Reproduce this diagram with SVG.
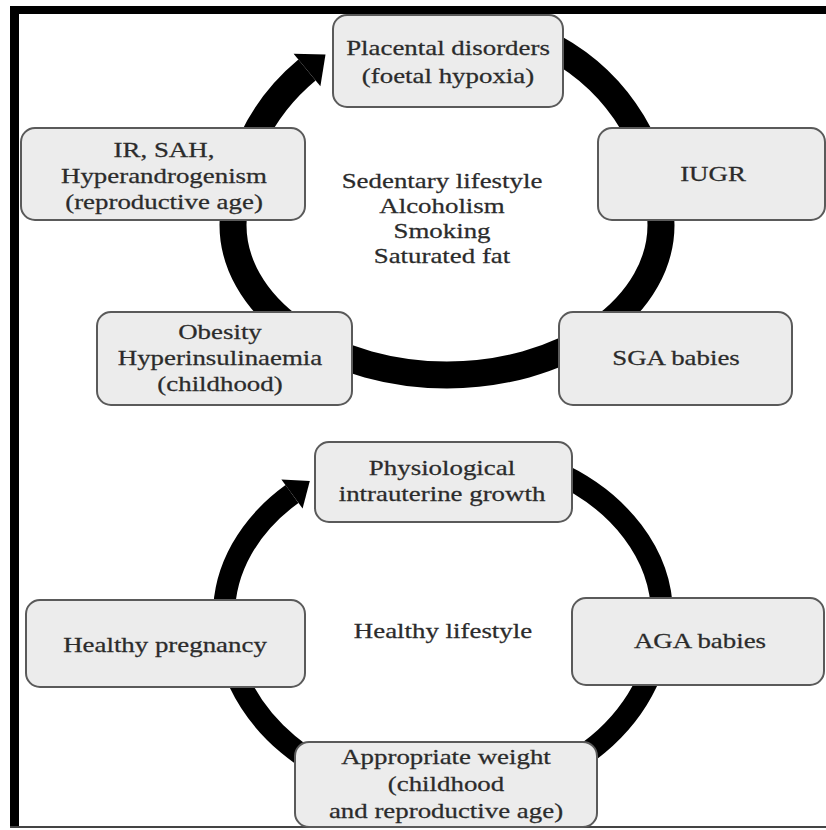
<svg xmlns="http://www.w3.org/2000/svg" width="826" height="830" viewBox="0 0 826 830">
<defs>
<style>
.box{fill:#ececec;stroke:#5a5a5a;stroke-width:2}
.t{font-family:"Liberation Serif","Times New Roman",serif;font-size:21.5px;fill:#2b2b2b;stroke:#2b2b2b;stroke-width:0.25;text-anchor:middle}
.ring{fill:none;stroke:#000;stroke-linecap:butt}
</style>
</defs>
<rect x="0" y="0" width="826" height="830" fill="#fff"/>
<g id="frame">
<rect x="10" y="6" width="816" height="8" fill="#000"/>
<rect x="10" y="6" width="9" height="822" fill="#000"/>
<rect x="10" y="826" width="816" height="2" fill="#444"/>
</g>
<g id="connectors">
<path class="ring" stroke-width="27" d="M554 47.5 A214 205 0 0 1 661 225 A214 150 0 0 1 233 225 A214 205 0 0 1 307 70"/>
<polygon points="293.6,53.8 320.4,86.2 325.5,54.6" fill="#000"/>
<path class="ring" stroke-width="22" d="M552.5 470.4 A219 167 0 0 1 662 615 A219 183 0 0 1 224 615 A219 167 0 0 1 292 494"/>
<polygon points="281.4,479.4 302.6,508.6 309.8,481.1" fill="#000"/>
</g>
<g id="placental"><rect class="box" x="333" y="15" width="230" height="92" rx="14"/>
<text class="t" transform="translate(448 0) scale(1.25 1)" x="0" y="55">Placental disorders</text><text class="t" transform="translate(448 0) scale(1.25 1)" x="0" y="83">(foetal hypoxia)</text></g>
<g id="iugr"><rect class="box" x="598" y="128" width="227" height="92" rx="14"/>
<text class="t" transform="translate(713 0) scale(1.25 1)" x="0" y="181">IUGR</text></g>
<g id="irsah"><rect class="box" x="21" y="128" width="284" height="92" rx="14"/>
<text class="t" transform="translate(164 0) scale(1.25 1)" x="0" y="157">IR, SAH,</text><text class="t" transform="translate(164 0) scale(1.25 1)" x="0" y="183">Hyperandrogenism</text><text class="t" transform="translate(164 0) scale(1.25 1)" x="0" y="209">(reproductive age)</text></g>
<g id="risk">
<text class="t" transform="translate(442 0) scale(1.25 1)" x="0" y="188">Sedentary lifestyle</text><text class="t" transform="translate(442 0) scale(1.25 1)" x="0" y="213">Alcoholism</text><text class="t" transform="translate(442 0) scale(1.25 1)" x="0" y="238">Smoking</text><text class="t" transform="translate(442 0) scale(1.25 1)" x="0" y="263">Saturated fat</text></g>
<g id="obesity"><rect class="box" x="97" y="312" width="255" height="93" rx="14"/>
<text class="t" transform="translate(220 0) scale(1.25 1)" x="0" y="339">Obesity</text><text class="t" transform="translate(220 0) scale(1.25 1)" x="0" y="365">Hyperinsulinaemia</text><text class="t" transform="translate(220 0) scale(1.25 1)" x="0" y="391">(childhood)</text></g>
<g id="sga"><rect class="box" x="559" y="312" width="233" height="93" rx="14"/>
<text class="t" transform="translate(676 0) scale(1.25 1)" x="0" y="365">SGA babies</text></g>
<g id="physio"><rect class="box" x="315" y="442" width="257" height="80" rx="14"/>
<text class="t" transform="translate(442 0) scale(1.25 1)" x="0" y="475">Physiological</text><text class="t" transform="translate(442 0) scale(1.25 1)" x="0" y="501">intrauterine growth</text></g>
<g id="healthy-lifestyle"><text class="t" transform="translate(443 0) scale(1.25 1)" x="0" y="638">Healthy lifestyle</text></g>
<g id="pregnancy"><rect class="box" x="26" y="600" width="279" height="87" rx="14"/>
<text class="t" transform="translate(165 0) scale(1.25 1)" x="0" y="652">Healthy pregnancy</text></g>
<g id="aga"><rect class="box" x="572" y="598" width="252" height="87" rx="14"/>
<text class="t" transform="translate(700 0) scale(1.25 1)" x="0" y="648">AGA babies</text></g>
<g id="weight"><rect class="box" x="295" y="742" width="302" height="85" rx="14"/>
<text class="t" transform="translate(446 0) scale(1.25 1)" x="0" y="764">Appropriate weight</text><text class="t" transform="translate(446 0) scale(1.25 1)" x="0" y="791">(childhood</text><text class="t" transform="translate(446 0) scale(1.25 1)" x="0" y="818">and reproductive age)</text></g>
</svg>
